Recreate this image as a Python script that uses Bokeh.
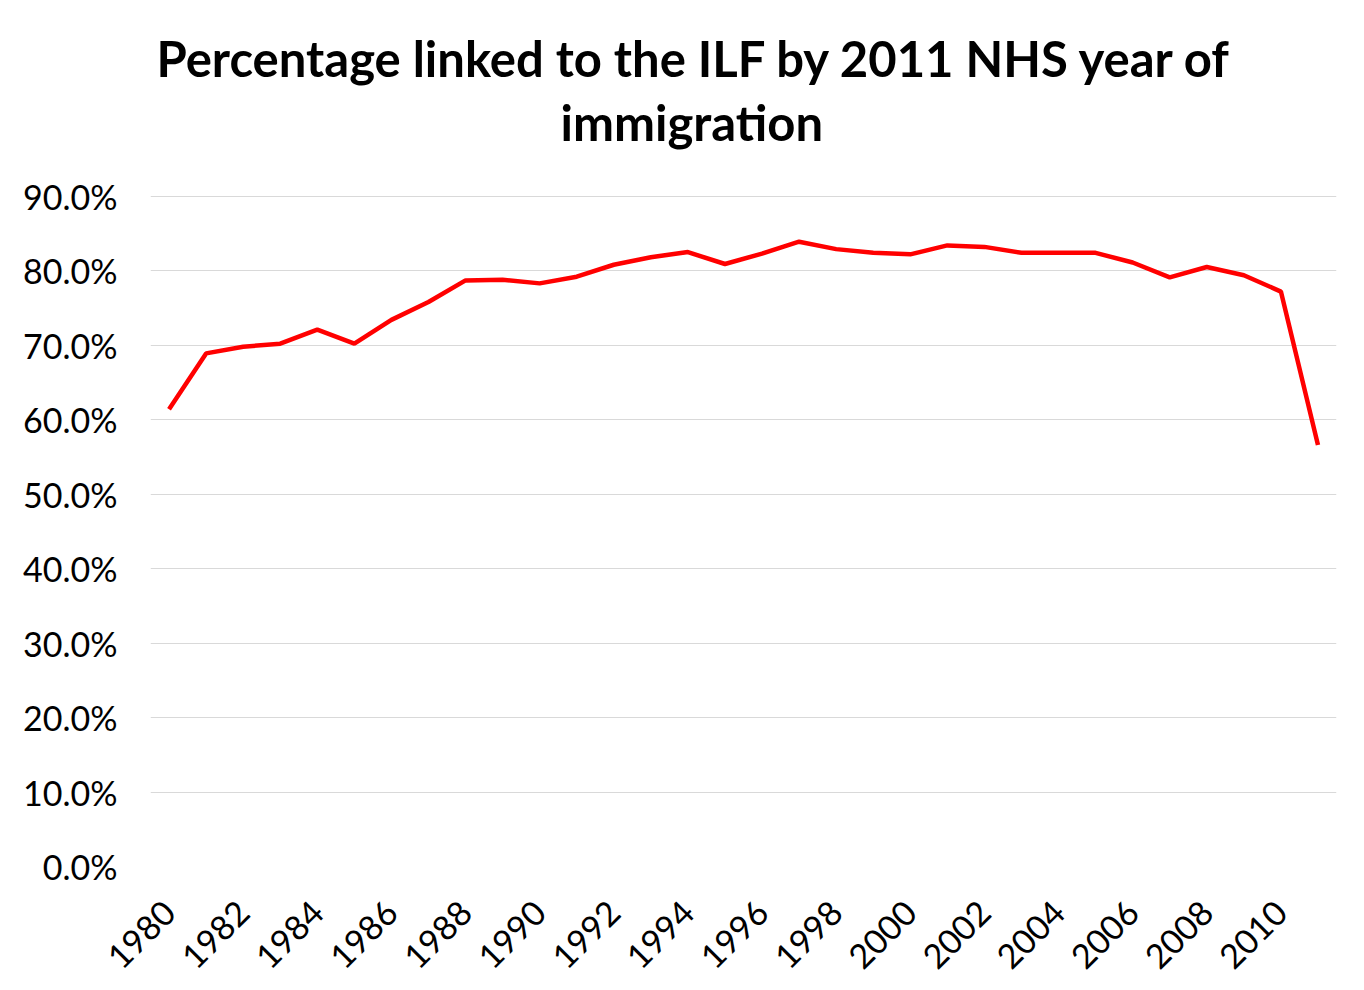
from bokeh.plotting import figure
from bokeh.models import FixedTicker, PrintfTickFormatter, Range1d, Title
from bokeh.embed import file_html
from bokeh.resources import INLINE
import math

years = list(range(1980, 2012))
pct = [61.4, 68.9, 69.8, 70.2, 72.1, 70.2, 73.4, 75.8, 78.7, 78.8, 78.3, 79.2,
       80.8, 81.8, 82.5, 80.9, 82.3, 83.9, 82.9, 82.4, 82.2, 83.4, 83.2, 82.4,
       82.4, 82.4, 81.1, 79.1, 80.5, 79.4, 77.2, 56.6]
y_ticks = [0, 10, 20, 30, 40, 50, 60, 70, 80, 90]
x_ticks = list(range(1980, 2011, 2))
title_lines = ["Percentage linked to the ILF by 2011 NHS year of", "immigration"]

FONT = "Lato"

p = figure(width=1356, height=982, output_backend="svg", toolbar_location=None,
           x_range=Range1d(1979.5, 2011.5), y_range=Range1d(0, 90.1),
           min_border_left=150, min_border_right=20, min_border_bottom=113,
           min_border_top=195)
p.title = None
p.add_layout(Title(text=title_lines[1], align="left", text_font=FONT,
                   text_font_size="49px", text_font_style="bold",
                   text_color="#000000", offset=410, standoff=90), "above")
p.add_layout(Title(text=title_lines[0], align="left", text_font=FONT,
                   text_font_size="49px", text_font_style="bold",
                   text_color="#000000", offset=6, standoff=-82), "above")

p.line(years, pct, line_color="#ff0000", line_width=4.5)

p.outline_line_color = None
p.xgrid.grid_line_color = None
p.ygrid.grid_line_color = "#d9d9d9"
p.ygrid.grid_line_width = 1

p.yaxis.ticker = FixedTicker(ticks=y_ticks)
p.yaxis.formatter = PrintfTickFormatter(format="%.1f%%")
p.xaxis.ticker = FixedTicker(ticks=x_ticks)
p.xaxis.major_label_orientation = math.pi / 4

for ax in (p.xaxis[0], p.yaxis[0]):
    ax.axis_line_color = None
    ax.major_tick_line_color = None
    ax.minor_tick_line_color = None
    ax.major_tick_out = 0
    ax.major_tick_in = 0
    ax.major_label_text_font = FONT
    ax.major_label_text_font_size = "34px"
    ax.major_label_text_color = "#000000"
p.yaxis.major_label_standoff = 33
p.xaxis.major_label_standoff = 40

open("out.html", "w").write(file_html(p, INLINE))
